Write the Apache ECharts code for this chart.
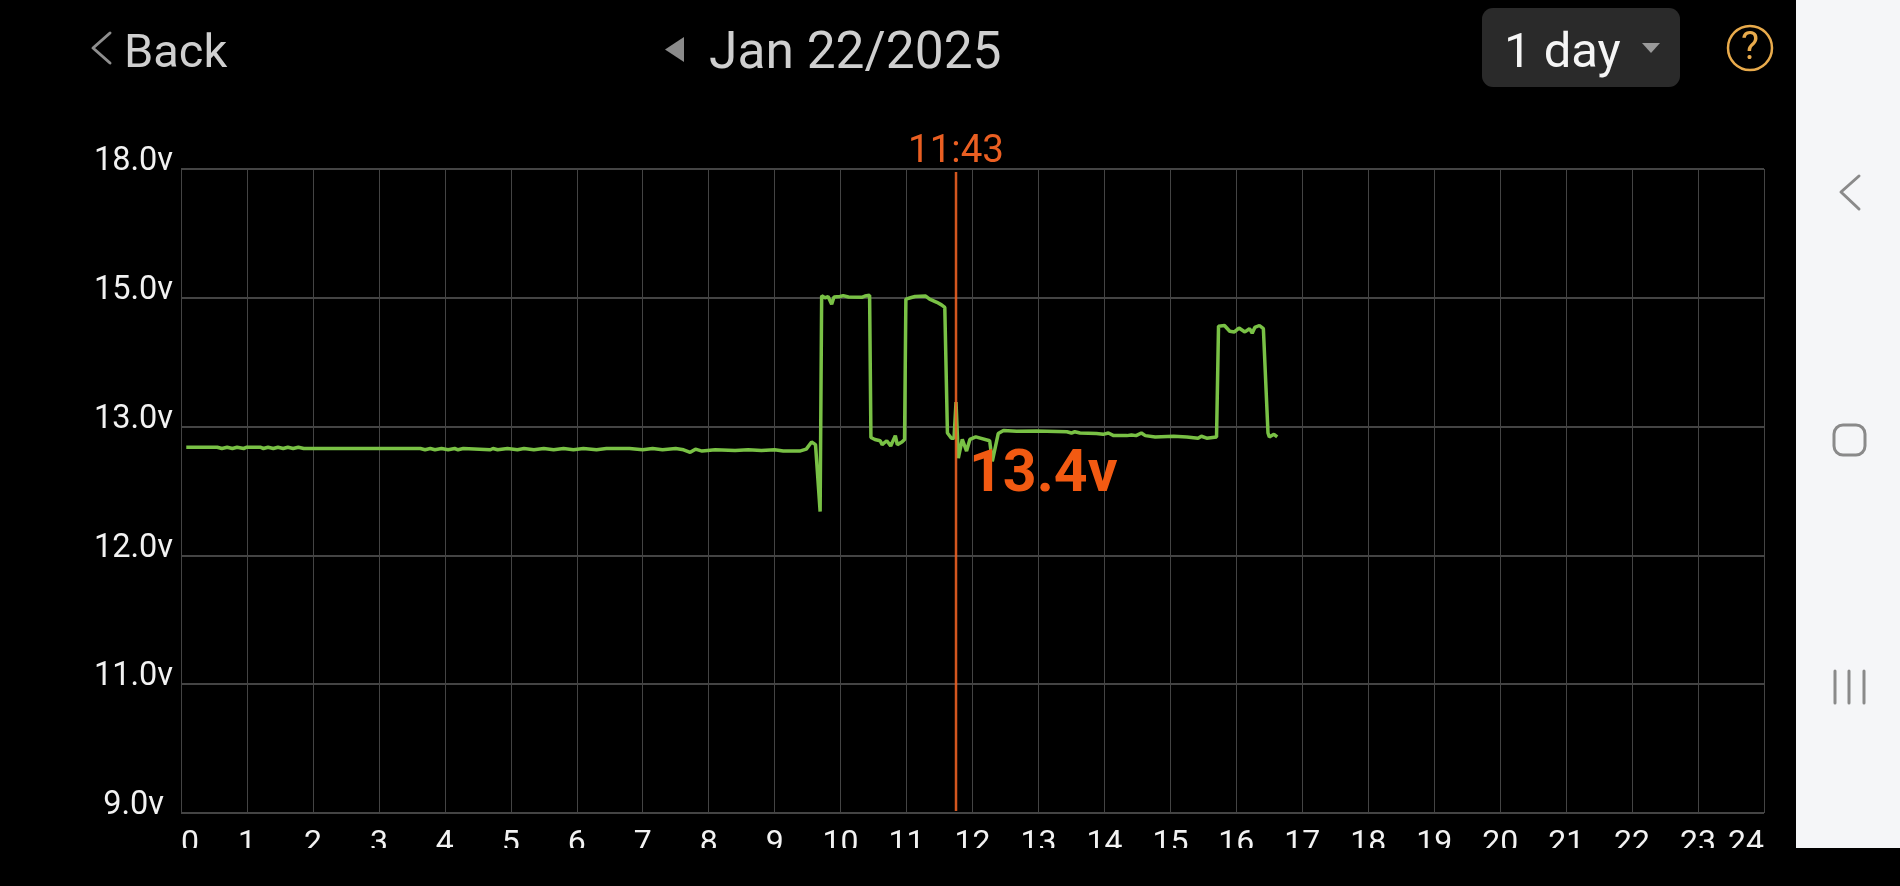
<!DOCTYPE html>
<html>
<head>
<meta charset="utf-8">
<style>html,body{margin:0;padding:0;background:#000;overflow:hidden}#c{width:1900px;height:886px}</style>
<script src="https://cdn.jsdelivr.net/npm/echarts@6/dist/echarts.min.js"></script>
</head>
<body>
<div id="c"></div>
<script>
const hourLabels = ['0','1','2','3','4','5','6','7','8','9','10','11','12','13','14','15','16','17','18','19','20','21','22','23','24'];
const voltTicks = [9, 11, 12, 13, 15, 18];
const voltLabels = ['9.0v','11.0v','12.0v','13.0v','15.0v','18.0v'];
const dateText = 'Jan 22/2025';
const cursorTime = '11:43';
const cursorHour = 11.75;
const cursorVolt = '13.4v';

const hours = [0.08,0.55,0.62,0.7,0.78,0.85,0.95,1.0,1.2,1.25,1.32,1.4,1.47,1.55,1.62,1.7,1.78,1.86,2.4,2.43,2.46,2.95,2.98,3.02,3.63,3.7,3.78,3.85,3.95,4.05,4.15,4.2,4.28,4.69,4.73,
  4.8,4.95,5.1,5.2,5.35,5.5,5.65,5.8,5.95,6.1,6.3,6.45,6.6,6.8,7.0,7.15,7.3,7.5,7.62,7.72,7.8,7.9,8.1,8.4,8.6,8.8,9.0,9.13,9.28,9.38,9.48,9.56,9.62,9.69,
  9.713,9.763,9.81,9.865,9.9,9.99,10.04,10.12,10.32,10.37,10.44,
  10.46,10.52,10.6,10.63,10.7,10.76,10.83,10.86,10.93,10.97,
  10.99,11.06,11.13,11.29,11.35,11.46,11.53,11.58,
  11.62,11.68,11.72,11.75,11.785,11.845,11.91,11.96,12.05,12.26,12.3,12.39,12.47,12.67,12.97,
  13.43,13.5,13.55,13.63,13.88,13.98,14.06,14.14,14.34,14.41,14.48,14.56,14.62,14.77,15.05,15.25,15.42,15.47,15.55,15.7,
  15.73,15.82,15.9,15.97,16.04,16.13,16.2,16.24,16.28,16.35,16.41,
  16.48,16.5,16.57,16.62];
const volts = [12.84,12.84,12.83,12.84,12.83,12.84,12.83,12.84,12.84,12.83,12.84,12.83,12.84,12.83,12.84,12.83,12.84,12.83,12.83,12.82,12.83,12.83,12.82,12.83,12.83,12.82,12.83,12.82,12.83,12.82,12.83,12.82,12.83,12.82,12.83,
  12.82,12.83,12.82,12.83,12.82,12.83,12.82,12.83,12.82,12.83,12.82,12.83,12.83,12.83,12.82,12.83,12.82,12.83,12.82,12.80,12.825,12.81,12.82,12.815,12.82,12.815,12.82,12.81,12.81,12.81,12.825,12.88,12.86,12.34,
  15.05,15.0,15.03,14.9,15.02,15.03,15.05,15.02,15.01,15.04,15.06,
  12.915,12.9,12.89,12.86,12.89,12.85,12.93,12.86,12.88,12.9,
  14.98,15.0,15.03,15.04,14.98,14.93,14.89,14.85,
  12.95,12.91,12.91,13.38,12.755,12.9,12.81,12.9,12.92,12.89,12.73,12.946,12.97,12.964,12.966,
  12.96,12.95,12.96,12.95,12.946,12.94,12.95,12.93,12.93,12.935,12.93,12.95,12.93,12.92,12.925,12.92,12.91,12.925,12.91,12.92,
  14.56,14.57,14.48,14.47,14.53,14.47,14.52,14.45,14.54,14.57,14.52,
  12.95,12.92,12.94,12.92];

// the voltage axis is evenly spaced by tick, not by volt: map volts to tick position
function toPos(v) {
  for (let i = 0; i < voltTicks.length - 1; i++) {
    if (v <= voltTicks[i + 1]) return i + (v - voltTicks[i]) / (voltTicks[i + 1] - voltTicks[i]);
  }
  return voltTicks.length - 1;
}
const lineData = hours.map((h, i) => [h, toPos(volts[i])]);
const ORANGE = '#ea5f22', TXT = '#cfcfcf', GRAY = '#8e8e8e', AMBER = '#e9ab4c';

const chart = echarts.init(document.getElementById('c'), null, {renderer: 'canvas'});
const txt = (text, x, y, font, fill, align) => ({type:'text', z:100, style:{text, x, y, font, fill, align: align||'left', verticalAlign:'middle'}});
const pl = (points, stroke, w) => ({type:'polyline', z:101, shape:{points}, style:{stroke, fill:null, lineWidth:w, lineCap:'round', lineJoin:'round'}});

chart.setOption({
  animation: false,
  backgroundColor: '#000',
  grid: {left: 181, right: 136, top: 169, bottom: 73, containLabel: false},
  xAxis: {
    type: 'value', min: 0, max: 24, interval: 1,
    axisLine: {show: false}, axisTick: {show: false},
    splitLine: {show: true, lineStyle: {color: '#444', width: 1}},
    axisLabel: {
      color: '#f2f2f2', fontFamily: 'Roboto', fontSize: 32, margin: 15,
      alignMinLabel: 'left', alignMaxLabel: 'right', hideOverlap: false, showMinLabel: true, showMaxLabel: true,
      formatter: v => hourLabels[v]
    }
  },
  yAxis: {
    type: 'value', min: 0, max: voltTicks.length - 1, interval: 1,
    axisLine: {show: false}, axisTick: {show: false},
    splitLine: {show: true, lineStyle: {color: '#444', width: 2}},
    axisLabel: {
      color: '#f2f2f2', fontFamily: 'Roboto', fontSize: 32.5, margin: 8, verticalAlign: 'bottom', lineHeight: 14,
      rich: {low: {color: '#f2f2f2', fontFamily: 'Roboto', fontSize: 32.5, lineHeight: 14, padding: [0, 9, 0, 0]}},
      formatter: v => v === 0 ? '{low|' + voltLabels[v] + '}' : voltLabels[v]
    }
  },
  series: [
    {type: 'line', name: 'Voltage', data: lineData, symbol: 'none', smooth: false, z: 3,
      lineStyle: {color: '#79c145', width: 3.5}},
    {type: 'line', name: 'Cursor', symbol: 'circle', symbolSize: 1, showSymbol: true, z: 4, silent: true,
      itemStyle: {color: 'rgba(0,0,0,0)'},
      lineStyle: {color: ORANGE, width: 2.5, opacity: 0.9},
      data: [
        {value: [cursorHour, toPos(17.93)], label: {show: true, position: 'top', distance: 0, formatter: cursorTime, color: ORANGE, fontFamily: 'Roboto', fontSize: 38.5}},
        {value: [cursorHour, toPos(9.03)]}
      ]}
  ],
  graphic: [
    // header
    pl([[110,33],[93,48],[110,63]], GRAY, 3),
    txt('Back', 124, 55, '400 47px Roboto', TXT),
    {type:'polygon', z:100, shape:{points:[[684,37],[684,62],[665,49.5]]}, style:{fill:'#8a8a8a'}},
    txt(dateText, 709, 55, '400 51.5px Roboto', TXT),
    {type:'rect', z:100, shape:{x:1482,y:8,width:198,height:79,r:11}, style:{fill:'#2a2a2a'}},
    txt('1 day', 1504, 55, '400 49px Roboto', '#f5f5f5'),
    {type:'polygon', z:101, shape:{points:[[1642,43],[1660,43],[1651,53]]}, style:{fill:'#9a9a9a'}},
    {type:'circle', z:100, shape:{cx:1750,cy:48,r:22}, style:{stroke:AMBER, fill:null, lineWidth:2.5}},
    txt('?', 1750, 49, '400 38px Roboto', AMBER, 'center'),
    // reading
    txt(cursorVolt, 969, 476, '700 59px Roboto', '#f25a12'),
    // clip band below the app view
    {type:'rect', z:100, shape:{x:0,y:848,width:1900,height:38}, style:{fill:'#000'}},
    // navigation bar
    {type:'rect', z:100, shape:{x:1796,y:0,width:104,height:848}, style:{fill:'#f5f6f8'}},
    pl([[1859,176],[1841,192],[1859,209]], '#8a8a8a', 3),
    {type:'rect', z:101, shape:{x:1834,y:425,width:31,height:30,r:9}, style:{stroke:'#8a8a8a', fill:null, lineWidth:3}},
    pl([[1835,671],[1835,703]], '#8a8a8a', 3),
    pl([[1849,671],[1849,703]], '#8a8a8a', 3),
    pl([[1864,671],[1864,703]], '#8a8a8a', 3)
  ]
});
</script>
</body>
</html>
